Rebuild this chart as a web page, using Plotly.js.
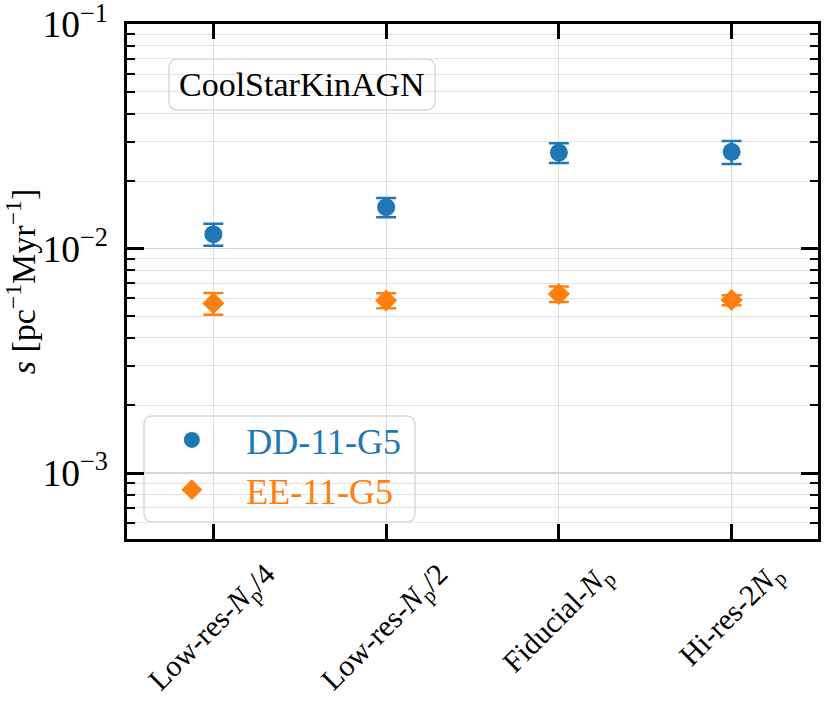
<!DOCTYPE html>
<html>
<head>
<meta charset="utf-8">
<script src="https://cdn.plot.ly/plotly-3.0.1.min.js"></script>
<style>
  html, body { margin: 0; padding: 0; background: #fff; }
  #grafico { width: 830px; height: 706px; }
</style>
</head>
<body>
<div id="grafico"></div>
<script>
// datos
var categorias = ['Low-res-Np/4', 'Low-res-Np/2', 'Fiducial-Np', 'Hi-res-2Np'];
var etiquetas = [
  'Low-res-<i>N</i><sub>p</sub>/4',
  'Low-res-<i>N</i><sub>p</sub>/2',
  'Fiducial-<i>N</i><sub>p</sub>',
  'Hi-res-2<i>N</i><sub>p</sub>'
];
var ddValores = [0.0116, 0.0153, 0.0268, 0.0270];
var ddError = [0.0013, 0.0015, 0.0027, 0.0032];
var eeValores = [0.00571, 0.00587, 0.00628, 0.00590];
var eeError = [0.00063, 0.00045, 0.0005, 0.0003];

var azul = '#1f77b4';
var naranja = '#ff7f0e';
var fuente = '"Liberation Serif", "DejaVu Serif", serif';

var traza1 = {
  x: categorias,
  y: ddValores,
  type: 'scatter',
  mode: 'markers',
  name: '<span style="color:' + azul + '">DD-11-G5</span>',
  marker: { color: azul, size: 18, symbol: 'circle' },
  error_y: { type: 'data', array: ddError, visible: true, color: azul, thickness: 2.5, width: 10 }
};

var traza2 = {
  x: categorias,
  y: eeValores,
  type: 'scatter',
  mode: 'markers',
  name: '<span style="color:' + naranja + '">EE-11-G5</span>',
  marker: { color: naranja, size: 17, symbol: 'diamond' },
  error_y: { type: 'data', array: eeError, visible: true, color: naranja, thickness: 2.5, width: 10 }
};

// caja con esquinas redondeadas en coordenadas de papel
function cajaRedonda(x0, y0, x1, y1, rpx) {
  var rx = rpx / 691, ry = rpx / 515;
  return 'M' + (x0 + rx) + ',' + y0 +
    ' L' + (x1 - rx) + ',' + y0 +
    ' Q' + x1 + ',' + y0 + ' ' + x1 + ',' + (y0 + ry) +
    ' L' + x1 + ',' + (y1 - ry) +
    ' Q' + x1 + ',' + y1 + ' ' + (x1 - rx) + ',' + y1 +
    ' L' + (x0 + rx) + ',' + y1 +
    ' Q' + x0 + ',' + y1 + ' ' + x0 + ',' + (y1 - ry) +
    ' L' + x0 + ',' + (y0 + ry) +
    ' Q' + x0 + ',' + y0 + ' ' + (x0 + rx) + ',' + y0 + ' Z';
}

var anotaciones = categorias.map(function (c, i) {
  return {
    x: c, xref: 'x', y: -0.029, yref: 'paper',
    text: etiquetas[i], showarrow: false, textangle: -45,
    xanchor: 'center', yanchor: 'top',
    font: { family: fuente, size: 30, color: '#000' }
  };
});
anotaciones.push({
  x: 0.253, y: 0.8825, xref: 'paper', yref: 'paper',
  text: 'CoolStarKinAGN', showarrow: false,
  xanchor: 'center', yanchor: 'middle',
  font: { family: fuente, size: 34, color: '#000' }
});

var layout = {
  width: 830,
  height: 706,
  margin: { l: 127, r: 12, t: 24, b: 167 },
  paper_bgcolor: '#fff',
  plot_bgcolor: '#fff',
  font: { family: fuente, color: '#000' },
  showlegend: true,
  legend: {
    x: 0.015, y: 0.2505, xanchor: 'left', yanchor: 'top',
    bgcolor: 'rgba(0,0,0,0)', borderwidth: 0,
    font: { family: fuente, size: 36 },
    itemwidth: 99
  },
  xaxis: {
    range: [-0.5, 3.5],
    showgrid: true, gridcolor: '#dddddd', gridwidth: 1,
    ticks: 'inside', ticklen: 15, tickwidth: 3, tickcolor: '#000',
    showline: true, linewidth: 3, linecolor: '#000', mirror: 'allticks',
    showticklabels: false, zeroline: false
  },
  yaxis: {
    type: 'log',
    range: [-3.294, -0.999],
    dtick: 1,
    exponentformat: 'power',
    showgrid: true, gridcolor: '#d6d6d6', gridwidth: 1.5,
    ticks: 'inside', ticklen: 17, tickwidth: 3, tickcolor: '#000',
    showline: true, linewidth: 3, linecolor: '#000', mirror: 'allticks',
    ticklabelstandoff: 10,
    ticklabeloverflow: 'allow',
    tickfont: { family: fuente, size: 30 },
    minor: {
      dtick: 'D1', ticks: 'inside', ticklen: 8, tickwidth: 2, tickcolor: '#000',
      showgrid: true, gridcolor: '#e3e3e3', gridwidth: 1
    },
    title: { text: '<i>s</i> [pc<sup>\u22121</sup>Myr<sup>\u22121</sup>]', font: { family: fuente, size: 34 }, standoff: 12 },
    zeroline: false
  },
  shapes: [
    {
      type: 'path', xref: 'paper', yref: 'paper', layer: 'between',
      path: cajaRedonda(0.0608, 0.833, 0.4457, 0.932, 9),
      fillcolor: 'rgba(255,255,255,0.8)', line: { color: '#d9d9d9', width: 1.5 }
    },
    {
      type: 'path', xref: 'paper', yref: 'paper', layer: 'between',
      path: cajaRedonda(0.0246, 0.033, 0.4168, 0.2388, 9),
      fillcolor: 'rgba(255,255,255,0.8)', line: { color: '#d9d9d9', width: 1.5 }
    }
  ],
  annotations: anotaciones
};

Plotly.newPlot('grafico', [traza1, traza2], layout, { displayModeBar: false, staticPlot: true });
</script>
</body>
</html>
